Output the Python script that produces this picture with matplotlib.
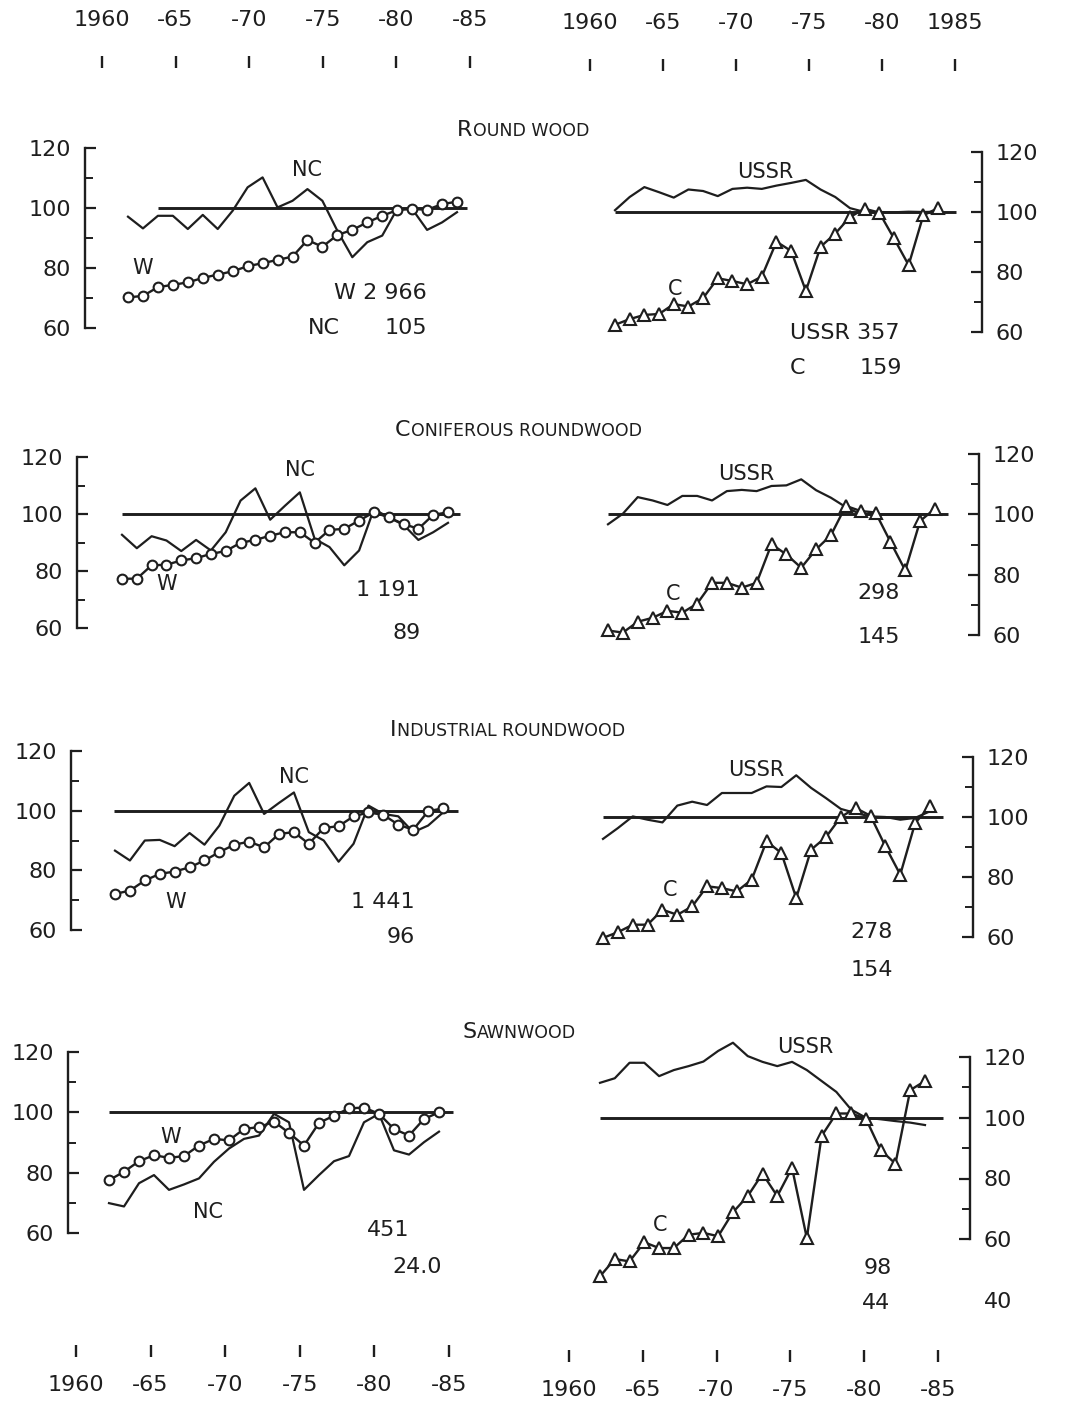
import matplotlib
matplotlib.use('Agg')
import matplotlib.pyplot as plt
from matplotlib.text import Annotation

plt.rcParams.update({
    'font.family': ['DejaVu Sans'],
    'font.size': 16,
    'text.color': '#1e1e1e',
    'xtick.color': '#1e1e1e',
    'ytick.color': '#1e1e1e',
    'axes.edgecolor': '#1e1e1e',
})

INK = '#1e1e1e'
W_PX, H_PX = 1080, 1402

# ---- data: indices, base = 100 ----
YEARS = list(range(1961, 1984))

# Round wood
RW_W = [70.2, 70.7, 73.6, 74.4, 75.2, 76.7, 77.8, 78.9, 80.6, 81.6, 82.7, 83.8,
        89.3, 87.1, 91.0, 92.7, 95.2, 97.4, 99.3, 99.7, 99.4, 101.3, 102.1]
RW_NC = [97.1, 93.2, 97.4, 97.4, 93.0, 97.7, 93.0, 99.1, 106.9, 110.2, 100.2, 102.4,
         106.3, 102.4, 92.4, 83.6, 88.6, 90.8, 99.7, 99.7, 92.7, 95.2, 98.6]
RW_USSR = [100.6, 105.0, 108.3, 106.6, 104.8, 107.5, 107.0, 105.3, 107.7, 108.1, 107.7, 108.8,
           109.7, 110.7, 107.5, 105.0, 101.3, 100.0, 100.0, 99.9, 100.1, 100.0, 100.1]
RW_C = [62.4, 64.3, 65.7, 66.0, 69.3, 68.5, 71.3, 77.9, 77.0, 75.9, 78.5, 90.1,
        87.0, 73.7, 88.4, 92.8, 98.3, 101.1, 99.8, 91.2, 82.3, 98.9, 101.3]

# Coniferous roundwood
CR_W = [77.3, 77.3, 82.0, 82.2, 83.7, 84.5, 86.0, 87.0, 89.9, 90.9, 92.4, 93.6,
        93.6, 89.9, 94.4, 94.8, 97.7, 100.6, 98.8, 96.5, 94.8, 99.7, 100.6]
CR_NC = [92.7, 88.0, 92.2, 90.7, 87.0, 90.9, 87.2, 93.6, 104.7, 109.0, 98.0, 102.9,
         107.6, 91.3, 88.4, 82.0, 87.2, 101.7, 98.8, 96.2, 90.9, 93.6, 96.9]
CR_USSR = [96.7, 100.2, 105.7, 104.6, 103.1, 106.1, 106.1, 104.6, 107.7, 108.1, 107.7, 109.4,
           109.6, 111.6, 108.0, 105.5, 102.4, 100.0, 100.0, 100.0, 100.0, 100.0, 100.0]
CR_C = [61.5, 60.8, 64.4, 65.7, 68.0, 67.4, 70.4, 77.3, 77.3, 75.7, 77.3, 90.1,
        86.7, 82.3, 88.4, 93.1, 102.8, 101.1, 100.6, 90.9, 81.4, 97.8, 101.9]

# Industrial roundwood
IR_W = [72.1, 73.2, 76.6, 78.8, 79.6, 81.0, 83.3, 86.1, 88.6, 89.6, 87.7, 92.2,
        92.8, 88.9, 94.2, 94.8, 98.1, 99.4, 98.6, 95.3, 93.6, 99.8, 100.8]
IR_NC = [86.6, 83.3, 90.0, 90.2, 88.1, 92.5, 88.6, 95.0, 105.0, 109.3, 98.9, 102.6,
         106.1, 92.8, 90.0, 82.9, 88.9, 101.7, 98.9, 98.1, 92.8, 95.0, 99.4]
IR_USSR = [92.7, 96.3, 100.2, 99.1, 98.2, 103.8, 105.1, 104.0, 108.0, 108.0, 108.0, 110.2,
           110.0, 113.9, 109.7, 106.3, 102.7, 101.3, 100.2, 100.0, 99.1, 99.7, 101.9]
IR_C = [59.7, 61.6, 64.1, 64.1, 69.1, 67.4, 70.2, 76.9, 76.3, 75.2, 79.1, 91.9,
        88.0, 73.0, 89.1, 93.3, 100.0, 103.0, 100.4, 90.2, 80.8, 98.0, 103.6]

# Sawnwood
SW_W = [77.5, 80.3, 83.8, 85.8, 84.9, 85.5, 89.0, 91.2, 90.7, 94.5, 95.1, 96.9,
        93.2, 89.0, 96.5, 98.9, 101.3, 101.6, 99.5, 94.5, 92.3, 97.8, 100.0]
SW_NC = [69.9, 68.8, 76.5, 79.2, 74.3, 76.1, 78.1, 83.6, 88.0, 91.2, 92.3, 99.5,
         96.7, 74.3, 79.2, 83.8, 85.5, 96.7, 99.5, 87.4, 86.0, 90.1, 93.6]
SW_USSR = [111.5, 113.0, 118.1, 118.1, 113.7, 115.7, 117.0, 118.5, 122.0, 124.7, 120.3, 118.4,
           117.0, 118.4, 115.7, 112.1, 108.5, 102.7, 100.0, 99.5, 98.9, 98.4, 97.6]
SW_C = [47.8, 53.5, 52.7, 59.0, 57.1, 57.1, 61.5, 62.1, 61.0, 68.9, 74.2, 81.6,
        74.2, 83.5, 60.4, 94.0, 101.4, 101.4, 99.7, 89.3, 84.9, 109.1, 112.1]

# base-period reference line (years covered)
BASE_SPAN_LEFT = [(1963.0, 1983.7), (1961.0, 1983.8), (1960.9, 1984.0), (1961.0, 1983.9)]
BASE_SPAN_RIGHT = [(1961.0, 1984.2), (1961.0, 1983.9), (1961.0, 1983.9), (1961.0, 1984.2)]

TITLES = [('R', 'OUND WOOD'), ('C', 'ONIFEROUS ROUNDWOOD'),
          ('I', 'NDUSTRIAL ROUNDWOOD'), ('S', 'AWNWOOD')]

# totals printed in each panel
NOTES_LEFT = [('W 2 966', '105'), ('1 191', '89'), ('1 441', '96'), ('451', '24.0')]
NOTES_RIGHT = [('USSR 357', '159'), ('298', '145'), ('278', '154'), ('98', '44')]

SCALE_YEARS = [1960, 1965, 1970, 1975, 1980, 1985]
SCALE_LABELS = ['1960', '-65', '-70', '-75', '-80', '-85']
SCALE_LABELS_TR = ['1960', '-65', '-70', '-75', '-80', '1985']

fig = plt.figure(figsize=(W_PX / 100, H_PX / 100), dpi=100)
fig.patch.set_facecolor('white')


def px_axes(x0, y0, x1, y1):
    return fig.add_axes([x0 / W_PX, 1 - y1 / H_PX, (x1 - x0) / W_PX, (y1 - y0) / H_PX])


def ftext(x, y, s, **kw):
    return fig.text(x / W_PX, 1 - y / H_PX, s, **kw)


def panel(side, spine_x, outer_x, first_px, last_px, y_top, y_bot, ylow=60):
    step = (last_px - first_px) / (YEARS[-1] - YEARS[0])
    yr = lambda p: YEARS[0] + (p - first_px) / step
    if side == 'left':
        ax = px_axes(spine_x, y_top, outer_x, y_bot)
        ax.set_xlim(yr(spine_x), yr(outer_x))
    else:
        ax = px_axes(outer_x, y_top, spine_x, y_bot)
        ax.set_xlim(yr(outer_x), yr(spine_x))
    ax.set_ylim(ylow, 120)
    ax.patch.set_alpha(0)
    for s in ['top', 'bottom', 'left', 'right']:
        ax.spines[s].set_visible(s == side)
    ax.spines[side].set_linewidth(1.7)
    ax.spines[side].set_bounds(60, 120)
    if side == 'right':
        ax.yaxis.tick_right()
    ax.set_xticks([])
    majors = [60, 80, 100, 120] if ylow == 60 else [40, 60, 80, 100, 120]
    ax.set_yticks(majors)
    ax.set_yticks([70, 90, 110], minor=True)
    ax.tick_params(axis='y', which='major', direction='in', length=8, width=1.6,
                   pad=10, labelsize=16)
    ax.tick_params(axis='y', which='minor', direction='in', length=6, width=1.4)
    if ylow == 40:
        t = ax.yaxis.get_major_ticks()[0]
        t.tick1line.set_visible(False)
        t.tick2line.set_visible(False)
    return ax


def draw_pair(ax, main, other, marker, span):
    ax.hlines(100, span[0], span[1], color=INK, lw=2.1, clip_on=False)
    ax.plot(YEARS, other, color=INK, lw=1.6, clip_on=False)
    ax.plot(YEARS, main, color=INK, lw=1.7, marker=marker, ms=7 if marker == 'o' else 8.5,
            mfc='white', mec=INK, mew=1.5, clip_on=False)


left_layout = [(85, 128, 457, 148, 328), (77, 122, 448, 457, 628),
               (71, 115, 443, 751, 930), (68, 109, 439, 1052, 1233)]
right_layout = [(982, 615, 938, 152, 332), (979, 608, 935, 454, 635),
                (973, 603, 930, 757, 937), (970, 600, 925, 1057, 1300)]

left_data = [(RW_W, RW_NC), (CR_W, CR_NC), (IR_W, IR_NC), (SW_W, SW_NC)]
right_data = [(RW_C, RW_USSR), (CR_C, CR_USSR), (IR_C, IR_USSR), (SW_C, SW_USSR)]

for i in range(4):
    sx, f0, f1, yt, yb = left_layout[i]
    ax = panel('left', sx, 500, f0, f1, yt, yb)
    draw_pair(ax, left_data[i][0], left_data[i][1], 'o', BASE_SPAN_LEFT[i])

    sx, f0, f1, yt, yb = right_layout[i]
    ylow = 40 if i == 3 else 60
    ax = panel('right', sx, 580, f0, f1, yt, yb, ylow=ylow)
    draw_pair(ax, right_data[i][0], right_data[i][1], '^', BASE_SPAN_RIGHT[i])

# panel titles in small caps: big first letter, the rest set smaller on the same line
title_pos = [(457, 130), (395, 430), (390, 730), (462, 1032)]
for (big, rest), (tx, ty) in zip(TITLES, title_pos):
    t0 = ftext(tx, ty, big, fontsize=16, va='center')
    fig.add_artist(Annotation(rest, xy=(1.05, 0.0), xycoords=t0, va='bottom',
                              ha='left', fontsize=12.5))

# series labels
series_lbl = [('NC', 307, 170), ('W', 143, 268), ('USSR', 765, 172), ('C', 675, 289),
              ('NC', 300, 470), ('W', 167, 584), ('USSR', 746, 474), ('C', 673, 594),
              ('NC', 294, 777), ('W', 176, 902), ('USSR', 756, 770), ('C', 670, 890),
              ('W', 171, 1137), ('NC', 208, 1212), ('USSR', 805, 1047), ('C', 660, 1225)]
for s, x, y in series_lbl:
    ftext(x, y, s, fontsize=15, ha='center', va='center')

# totals
ftext(427, 293, NOTES_LEFT[0][0], ha='right', va='center')
ftext(308, 328, 'NC', ha='left', va='center')
ftext(427, 328, NOTES_LEFT[0][1], ha='right', va='center')
ftext(900, 333, NOTES_RIGHT[0][0], ha='right', va='center')
ftext(790, 368, 'C', ha='left', va='center')
ftext(902, 368, NOTES_RIGHT[0][1], ha='right', va='center')

ftext(420, 590, NOTES_LEFT[1][0], ha='right', va='center')
ftext(421, 633, NOTES_LEFT[1][1], ha='right', va='center')
ftext(900, 593, NOTES_RIGHT[1][0], ha='right', va='center')
ftext(900, 637, NOTES_RIGHT[1][1], ha='right', va='center')

ftext(415, 902, NOTES_LEFT[2][0], ha='right', va='center')
ftext(415, 937, NOTES_LEFT[2][1], ha='right', va='center')
ftext(893, 932, NOTES_RIGHT[2][0], ha='right', va='center')
ftext(893, 970, NOTES_RIGHT[2][1], ha='right', va='center')

ftext(409, 1230, NOTES_LEFT[3][0], ha='right', va='center')
ftext(442, 1267, NOTES_LEFT[3][1], ha='right', va='center')
ftext(892, 1268, NOTES_RIGHT[3][0], ha='right', va='center')
ftext(890, 1303, NOTES_RIGHT[3][1], ha='right', va='center')


# detached year scales at top and bottom
def year_scale(x1960, x1985, y, labels, top):
    ax = px_axes(x1960, y - 1, x1985, y + 1)
    ax.set_xlim(1960, 1985)
    ax.set_ylim(0, 1)
    ax.patch.set_alpha(0)
    for s in ax.spines.values():
        s.set_visible(False)
    ax.set_yticks([])
    ax.set_xticks(SCALE_YEARS)
    ax.set_xticklabels(labels)
    if top:
        ax.xaxis.tick_top()
    ax.tick_params(axis='x', direction='inout', length=9, width=1.7, labelsize=16,
                   pad=18.5 if top else 13)


year_scale(102, 470, 63, SCALE_LABELS, True)
year_scale(590, 955, 66, SCALE_LABELS_TR, True)
year_scale(76, 449, 1350, SCALE_LABELS, False)
year_scale(569, 938, 1355, SCALE_LABELS, False)

fig.savefig('out.png', dpi=100, facecolor='white')
